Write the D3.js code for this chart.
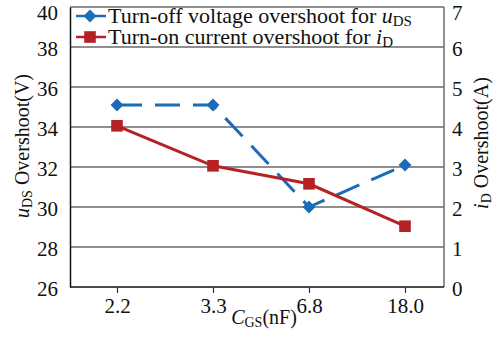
<!DOCTYPE html>
<html>
<head>
<meta charset="utf-8">
<script src="https://cdn.jsdelivr.net/npm/d3@7"></script>
<style>
  body { margin: 0; background: #fff; }
  svg text { font-family: "Liberation Serif", "DejaVu Serif", serif; fill: #111; }
</style>
</head>
<body>
<svg id="chart" width="499" height="343" font-family="Liberation Serif, serif"></svg>
<script>
const categories = ['2.2', '3.3', '6.8', '18.0'];
const uDsOvershoot = [35.1, 35.1, 30.0, 32.1];
const iDOvershoot = [4.03, 3.03, 2.58, 1.52];
const leftTicks = [26, 28, 30, 32, 34, 36, 38, 40];
const rightTicks = [0, 1, 2, 3, 4, 5, 6, 7];

const blue = '#1b6cb8';
const red = '#b52226';
const serif = 'Liberation Serif, Times New Roman, serif';

const svg = d3.select('#chart');
const plot = { left: 70, right: 444, top: 7, bottom: 287 };

const x = d3.scalePoint().domain(categories).range([117, 405]);
const yL = d3.scaleLinear().domain([26, 40]).range([plot.bottom, plot.top]);
const yR = d3.scaleLinear().domain([0, 7]).range([plot.bottom, plot.top]);

// grid lines
svg.append('g')
    .selectAll('line')
    .data(leftTicks.filter(d => d > 26 && d < 40))
    .enter()
    .append('line')
    .attr('x1', plot.left)
    .attr('x2', plot.right)
    .attr('y1', d => yL(d))
    .attr('y2', d => yL(d))
    .attr('stroke', '#6a6a6a')
    .attr('stroke-width', 1.5);

// frame: top and right grey, left and bottom black
svg.append('line').attr('x1', plot.left).attr('x2', plot.right)
    .attr('y1', plot.top).attr('y2', plot.top).attr('stroke', '#6a6a6a').attr('stroke-width', 1.5);
svg.append('line').attr('x1', plot.right).attr('x2', plot.right)
    .attr('y1', plot.top).attr('y2', plot.bottom).attr('stroke', '#6a6a6a').attr('stroke-width', 1.5);

// d3 axes put font-family="sans-serif" on the group, override it
const styleTicks = g => {
    g.attr('font-family', serif).attr('font-size', 21);
    g.selectAll('text')
        .attr('font-family', serif)
        .style('font-family', serif)
        .style('font-size', '21px');
};

const axisL = d3.axisLeft(yL).tickValues(leftTicks).tickSize(0).tickPadding(12);
const gL = svg.append('g').attr('transform', `translate(${plot.left},0)`).call(axisL);
gL.select('.domain').attr('stroke', '#111').attr('stroke-width', 1.5);
gL.call(styleTicks);
gL.selectAll('text').attr('dy', d => d === 40 ? '0.6em' : '0.42em');

const axisR = d3.axisRight(yR).tickValues(rightTicks).tickFormat(d3.format('d')).tickSize(0).tickPadding(8);
const gR = svg.append('g').attr('transform', `translate(${plot.right},0)`).call(axisR);
gR.select('.domain').remove();
gR.call(styleTicks);
gR.selectAll('text').attr('dy', d => d === 7 ? '0.6em' : '0.42em');

const axisB = d3.axisBottom(x).tickSize(6).tickPadding(5).tickSizeOuter(0);
const gB = svg.append('g').attr('transform', `translate(0,${plot.bottom})`).call(axisB);
gB.select('.domain').attr('d', `M${plot.left},0H${plot.right}`).attr('stroke', '#111').attr('stroke-width', 1.5);
gB.selectAll('.tick line').attr('stroke', '#333').attr('stroke-width', 1.2);
gB.call(styleTicks);

// series lines
const lineL = d3.line().x((d, i) => x(categories[i])).y(d => yL(d));
const lineR = d3.line().x((d, i) => x(categories[i])).y(d => yR(d));

svg.append('path')
    .attr('d', lineL(uDsOvershoot))
    .attr('fill', 'none')
    .attr('stroke', blue)
    .attr('stroke-width', 3)
    .attr('stroke-dasharray', '25,13');

svg.append('path')
    .attr('d', lineR(iDOvershoot))
    .attr('fill', 'none')
    .attr('stroke', red)
    .attr('stroke-width', 3);

const diamond = d3.symbol().type(d3.symbolDiamond2).size(105);
const square = d3.symbol().type(d3.symbolSquare).size(135);

svg.append('g').selectAll('path')
    .data(uDsOvershoot)
    .enter()
    .append('path')
    .attr('d', diamond)
    .attr('transform', (d, i) => `translate(${x(categories[i])},${yL(d)})`)
    .attr('fill', blue);

svg.append('g').selectAll('path')
    .data(iDOvershoot)
    .enter()
    .append('path')
    .attr('d', square)
    .attr('transform', (d, i) => `translate(${x(categories[i])},${yR(d)})`)
    .attr('fill', red);

// legend
const legend = svg.append('g');
const legendItems = [
    { color: blue, sym: diamond, main: 'Turn-off voltage overshoot for ', v: 'u', sub: 'DS', y: 16 },
    { color: red, sym: square, main: 'Turn-on current overshoot for ', v: 'i', sub: 'D', y: 37 }
];
legendItems.forEach(d => {
    const g = legend.append('g').attr('transform', `translate(0,${d.y})`);
    g.append('line').attr('x1', 76).attr('x2', 106).attr('y1', 0).attr('y2', 0)
        .attr('stroke', d.color).attr('stroke-width', 2.5);
    g.append('path').attr('d', d.sym).attr('transform', 'translate(90,0)').attr('fill', d.color);
    const t = g.append('text').attr('x', 108).attr('y', 7).style('font-size', '22px');
    t.append('tspan').text(d.main);
    t.append('tspan').style('font-style', 'italic').text(d.v);
    t.append('tspan').style('font-size', '15px').attr('dy', 3).text(d.sub);
});

// axis titles
const xt = svg.append('text').attr('x', 264).attr('y', 324).attr('text-anchor', 'middle').style('font-size', '20px');
xt.append('tspan').style('font-style', 'italic').text('C');
xt.append('tspan').style('font-size', '14px').attr('dy', 3).text('GS');
xt.append('tspan').attr('dy', -3).text('(nF)');

const yt = svg.append('text').attr('transform', 'translate(29,146) rotate(-90)').attr('text-anchor', 'middle').style('font-size', '20px');
yt.append('tspan').style('font-style', 'italic').text('u');
yt.append('tspan').style('font-size', '14px').attr('dy', 3).text('DS');
yt.append('tspan').attr('dy', -3).text(' Overshoot(V)');

const yr = svg.append('text').attr('transform', 'translate(488,143) rotate(-90)').attr('text-anchor', 'middle').style('font-size', '20px');
yr.append('tspan').style('font-style', 'italic').text('i');
yr.append('tspan').style('font-size', '14px').attr('dy', 3).text('D');
yr.append('tspan').attr('dy', -3).text(' Overshoot(A)');
</script>
</body>
</html>
